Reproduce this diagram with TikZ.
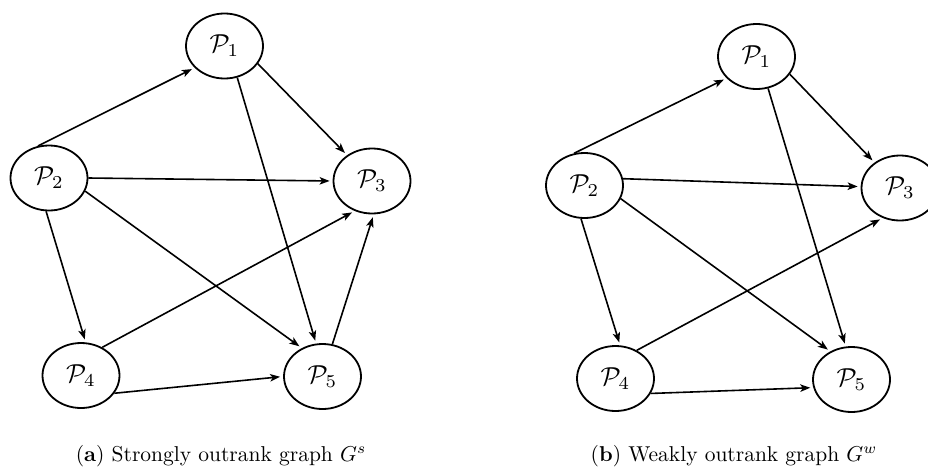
\documentclass[tikz,border=0pt]{standalone}
\usetikzlibrary{shapes.geometric,arrows.meta}
\newcommand{\plab}[1]{\scalebox{2.6}{$\mathcal{P}_{#1}$}}
\newcommand{\captxt}[1]{\scalebox{2.15}{#1}}
\begin{document}
\begin{tikzpicture}[x=1pt,y=-1pt,
  pnode/.style={draw,ellipse,line width=1.8pt,minimum width=77pt,minimum height=65pt,inner sep=0pt},
  arr/.style={line width=1.6pt,-{Stealth[length=10pt,width=7.5pt,inset=2.5pt]},shorten >=3pt},
  captext/.style={anchor=base,inner sep=0pt}]
\useasboundingbox (0,0) rectangle (928,474);
% left graph
\node[pnode] (a1) at (224.5,46) {\plab{1}};
\node[pnode] (a2) at (49,178) {\plab{2}};
\node[pnode] (a3) at (372,181) {\plab{3}};
\node[pnode] (a4) at (81,375.5) {\plab{4}};
\node[pnode] (a5) at (322.5,376.5) {\plab{5}};
\draw[arr] (a2.109) -- (a1.-144.5);
\draw[arr] (a1.-28) -- (a3.134);
\draw[arr] (a1.-68.7) -- (a5.101);
\draw[arr] (a2.0) -- (a3.180);
\draw[arr] (a2.-20) -- (a5.126);
\draw[arr] (a2.-95) -- (a4.82.6);
\draw[arr] (a4.53) -- (a3.-120.7);
\draw[arr] (a4.-28.7) -- (a5.180);
\draw[arr] (a5.73) -- (a3.-87);
\node[captext] (ca) at (221,461) {\captxt{(\textbf{a}) Strongly outrank graph $G^s$}};
% right graph
\node[pnode] (b1) at (756.5,56.5) {\plab{1}};
\node[pnode] (b2) at (584.5,185.5) {\plab{2}};
\node[pnode] (b3) at (900,188) {\plab{3}};
\node[pnode] (b4) at (615.5,378.5) {\plab{4}};
\node[pnode] (b5) at (851.5,379.5) {\plab{5}};
\draw[arr] (b2.108) -- (b1.-144.6);
\draw[arr] (b1.-28) -- (b3.135);
\draw[arr] (b1.-70) -- (b5.100.7);
\draw[arr] (b2.10) -- (b3.178.5);
\draw[arr] (b2.-20) -- (b5.127);
\draw[arr] (b2.-96) -- (b4.82);
\draw[arr] (b4.53.6) -- (b3.-120);
\draw[arr] (b4.-23) -- (b5.-168);
\node[captext] (cb) at (734,461) {\captxt{(\textbf{b}) Weakly outrank graph $G^w$}};
\end{tikzpicture}
\end{document}
